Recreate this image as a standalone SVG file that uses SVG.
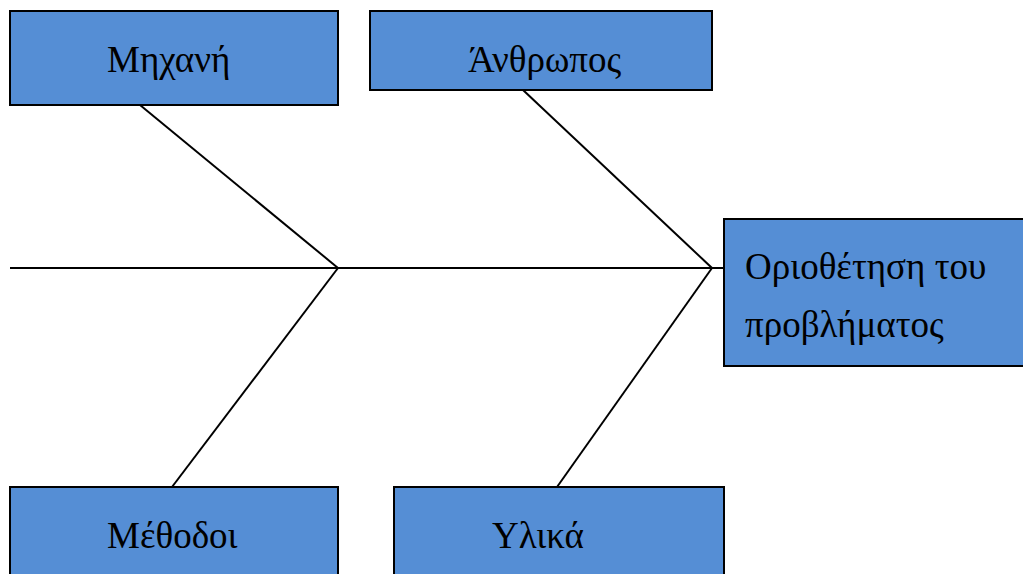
<svg xmlns="http://www.w3.org/2000/svg" width="1023" height="574" viewBox="0 0 1023 574">
<style>
.box{fill:#558ed5;stroke:#000;stroke-width:2}
.t{font-family:"Liberation Serif","Times New Roman",serif;font-size:37px;fill:#000}
.ln{stroke:#000;stroke-width:2;fill:none}
</style>
<rect width="1023" height="574" fill="#fff"/>
<g id="connectors">
<line class="ln" x1="10" y1="268" x2="724" y2="268"/>
<line class="ln" x1="140" y1="105" x2="338" y2="268"/>
<line class="ln" x1="172" y1="487" x2="338" y2="268"/>
<line class="ln" x1="523" y1="90" x2="712" y2="268"/>
<line class="ln" x1="557" y1="487" x2="712" y2="268"/>
</g>
<g id="mixani">
<rect class="box" x="10" y="11" width="328" height="94"/>
<text class="t" x="107" y="72">Μηχανή</text>
</g>
<g id="anthropos">
<rect class="box" x="370" y="11" width="342" height="79"/>
<text class="t" x="468" y="72">Άνθρωπος</text>
</g>
<g id="problem">
<rect class="box" x="724" y="219" width="305" height="147"/>
<text class="t" x="745" y="279">Οριοθέτηση του</text>
<text class="t" x="745" y="337">προβλήματος</text>
</g>
<g id="methodoi">
<rect class="box" x="10" y="487" width="328" height="100"/>
<text class="t" x="107" y="548">Μέθοδοι</text>
</g>
<g id="ylika">
<rect class="box" x="394" y="487" width="330" height="100"/>
<text class="t" x="492" y="548">Υλικά</text>
</g>
</svg>
